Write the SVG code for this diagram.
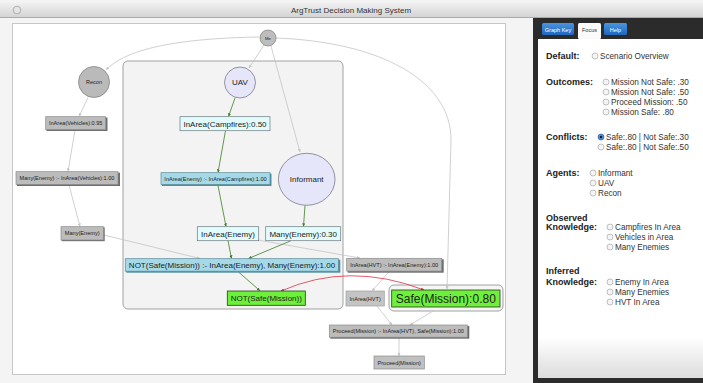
<svg xmlns="http://www.w3.org/2000/svg" width="703" height="383" viewBox="0 0 703 383">
<defs>
<linearGradient id="tb" x1="0" y1="0" x2="0" y2="1"><stop offset="0" stop-color="#f2f2f2"/><stop offset="1" stop-color="#d2d2d2"/></linearGradient>
<linearGradient id="tabb" x1="0" y1="0" x2="0" y2="1"><stop offset="0" stop-color="#4a95e0"/><stop offset="1" stop-color="#1f66c0"/></linearGradient>
<linearGradient id="pb" x1="0" y1="0" x2="0" y2="1"><stop offset="0" stop-color="#ffffff"/><stop offset="0.88" stop-color="#ffffff"/><stop offset="1" stop-color="#dcdcdc"/></linearGradient>
<marker id="ag" viewBox="0 0 6 6" refX="6" refY="3" markerWidth="4" markerHeight="4" orient="auto"><path d="M0,0 L6,3 L0,6 z" fill="#c4c4c4"/></marker>
<marker id="agr" viewBox="0 0 6 6" refX="6" refY="3" markerWidth="4" markerHeight="4" orient="auto"><path d="M0,0 L6,3 L0,6 z" fill="#3d7f25"/></marker>
<marker id="ar" viewBox="0 0 6 6" refX="6" refY="3" markerWidth="4" markerHeight="4" orient="auto"><path d="M0,0 L6,3 L0,6 z" fill="#e03048"/></marker>
<marker id="ars" viewBox="0 0 6 6" refX="0" refY="3" markerWidth="4" markerHeight="4" orient="auto"><path d="M6,0 L0,3 L6,6 z" fill="#e03048"/></marker>
<style>
.t{font-family:"Liberation Sans",Arial,sans-serif;fill:#222;text-anchor:middle}
.s{font-size:5.6px}
.m{font-size:8px}
.g{fill:none;stroke:#c4c4c4;stroke-width:0.8}
.gr{fill:none;stroke:#3d7f25;stroke-width:0.8}
.gray{fill:#bcbcbc;stroke:#8a8a8a;stroke-width:0.7}
.sh{fill:#6e6e6e}
.shb{fill:#4f8fa0}
.cyan{fill:#e2fbfd;stroke:#6a7a80;stroke-width:0.7}
.blue{fill:#a6d9e8;stroke:#5a8a98;stroke-width:0.7}
.green{fill:#6df03a;stroke:#2a3a20;stroke-width:0.8}
.lav{fill:#e6e6fa;stroke:#6a6a7a;stroke-width:0.7}
.lbl{font-family:"Liberation Sans",Arial,sans-serif;font-weight:bold;font-size:9px;fill:#222}
.opt{font-family:"Liberation Sans",Arial,sans-serif;font-size:8.2px;fill:#333}
.rd{fill:#f4f4f4;stroke:#9a9a9a;stroke-width:0.6}
</style>
</defs>
<rect x="0" y="0" width="703" height="383" fill="#f4f4f4"/>
<rect x="0" y="2" width="703" height="16" fill="url(#tb)"/>
<line x1="0" y1="17.5" x2="703" y2="17.5" stroke="#a0a0a0" stroke-width="0.8"/>
<circle cx="17" cy="10" r="3.8" fill="#e4e4e4" stroke="#9a9a9a" stroke-width="0.7"/>
<text x="351" y="12.5" class="t" style="font-size:8px;fill:#333">ArgTrust Decision Making System</text>
<rect x="12.5" y="23.5" width="493" height="351" fill="#ffffff" stroke="#c6c6c6" stroke-width="1"/>
<rect x="123" y="61" width="220" height="248" rx="5" fill="#f3f3f3" stroke="#8c8c8c" stroke-width="0.8"/>
<rect x="389" y="285" width="114" height="26" rx="5" fill="#f6f6f6" stroke="#8c8c8c" stroke-width="0.8"/>
<g id="connectors">
<path class="g" d="M259,37 C200,38 130,44 106,70" marker-end="url(#ag)"/>
<path class="g" d="M264,45 L249,68" marker-end="url(#ag)"/>
<path class="g" d="M271,46 L300,152" marker-end="url(#ag)"/>
<path class="g" d="M276,38 C380,42 451,80 451,140 L447,289" marker-end="url(#ag)"/>
<path class="g" d="M88,97.5 L79,116.5" marker-end="url(#ag)"/>
<path class="g" d="M75,130 L68,171.5" marker-end="url(#ag)"/>
<path class="g" d="M69,185 L80,226.5" marker-end="url(#ag)"/>
<path class="g" d="M104,235 L200,258.5" marker-end="url(#ag)"/>
<path class="g" d="M258,240 L360,258" marker-end="url(#ag)"/>
<path class="g" d="M389,271.7 L372,291" marker-end="url(#ag)"/>
<path class="g" d="M377,306 L392,325" marker-end="url(#ag)"/>
<path class="g" d="M433,311 L410,325" marker-end="url(#ag)"/>
<path class="g" d="M399,338 L399,356" marker-end="url(#ag)"/>
<path class="gr" d="M235,98 L228.5,116.5" marker-end="url(#agr)"/>
<path class="gr" d="M225.5,130.7 L218,172.5" marker-end="url(#agr)"/>
<path class="gr" d="M218,185.5 L226,226.5" marker-end="url(#agr)"/>
<path class="gr" d="M305,205.5 L303.5,226.5" marker-end="url(#agr)"/>
<path class="gr" d="M228,240.7 L231.5,258.5" marker-end="url(#agr)"/>
<path class="gr" d="M291,240.7 L248.5,258.5" marker-end="url(#agr)"/>
<path class="gr" d="M238.5,272 L260,290.8" marker-end="url(#agr)"/>
<path d="M281,291 Q349,261 424,290" fill="none" stroke="#e03048" stroke-width="0.8" marker-start="url(#ars)" marker-end="url(#ar)"/>
</g>
<g id="me"><circle cx="268" cy="38" r="8" fill="#bdbdbd" stroke="#808080" stroke-width="0.7"/><text x="268" y="39.5" class="t" style="font-size:4.3px">Me</text></g>
<g id="recon"><circle cx="94" cy="82" r="15.5" fill="#bababa" stroke="#7a7a7a" stroke-width="0.7"/><text x="94" y="84" class="t" style="font-size:5.5px">Recon</text></g>
<g id="uav"><circle cx="240" cy="82.5" r="15.5" class="lav"/><text x="240" y="85.3" class="t m">UAV</text></g>
<g id="informant"><ellipse cx="306.7" cy="179.3" rx="28.3" ry="26" class="lav"/><text x="306.7" y="182" class="t m">Informant</text></g>
<g id="inarea-vehicles"><rect x="46.5" y="117.5" width="61" height="13.5" class="sh"/><rect x="45.7" y="116.7" width="60" height="13" class="gray"/><text x="75.7" y="125.3" class="t s">InArea(Vehicles):0.95</text></g>
<g id="many-enemy-rule"><rect x="17" y="172.7" width="103" height="13.3" class="sh"/><rect x="16" y="171.7" width="102" height="12.8" class="gray"/><text x="67" y="180.2" class="t s">Many(Enemy) :- InArea(Vehicles):1.00</text></g>
<g id="many-enemy"><rect x="61.7" y="227.4" width="43" height="13.8" class="sh"/><rect x="61" y="226.7" width="42.5" height="13.3" class="gray"/><text x="82.2" y="235.3" class="t s">Many(Enemy)</text></g>
<g id="inarea-campfires"><rect x="180" y="116.7" width="90" height="14" class="cyan"/><text x="225" y="126.5" class="t m">InArea(Campfires):0.50</text></g>
<g id="inarea-enemy-rule"><rect x="162" y="173.7" width="109.5" height="12.3" class="shb"/><rect x="161" y="172.7" width="109" height="11.8" class="blue"/><text x="215.5" y="180.6" class="t s">InArea(Enemy) :- InArea(Campfires):1.00</text></g>
<g id="inarea-enemy"><rect x="197.3" y="226.7" width="61.4" height="14" class="cyan"/><text x="228" y="236.5" class="t m">InArea(Enemy)</text></g>
<g id="many-enemy-030"><rect x="265.7" y="226.7" width="75" height="14" class="cyan"/><text x="303.2" y="236.5" class="t m">Many(Enemy):0.30</text></g>
<g id="not-safe-rule"><rect x="126.3" y="259.7" width="214" height="13" class="shb"/><rect x="125.3" y="258.7" width="213" height="12.5" class="blue"/><text x="232" y="268" class="t m">NOT(Safe(Mission)) :- InArea(Enemy), Many(Enemy):1.00</text></g>
<g id="not-safe"><rect x="227.3" y="291" width="78" height="14.3" class="green"/><text x="266.3" y="301" class="t m">NOT(Safe(Mission))</text></g>
<g id="inarea-hvt-rule"><rect x="347.7" y="259.3" width="96" height="13.4" class="sh"/><rect x="346.7" y="258.3" width="95" height="12.8" class="gray"/><text x="394.2" y="266.7" class="t s">InArea(HVT) :- InArea(Enemy):1.00</text></g>
<g id="inarea-hvt"><rect x="346" y="291" width="38.3" height="15" fill="#c4c4c4" stroke="#a0a0a0" stroke-width="0.7"/><text x="365.2" y="300.5" class="t s">InArea(HVT)</text></g>
<g id="safe-mission"><rect x="391.7" y="290" width="108.3" height="17" class="green"/><text x="445.8" y="302.8" class="t" style="font-size:12px">Safe(Mission):0.80</text></g>
<g id="proceed-rule"><rect x="330.3" y="326" width="139" height="12.7" class="sh"/><rect x="329.3" y="325" width="138" height="12.2" class="gray"/><text x="398.3" y="333" class="t s">Proceed(Mission) :- InArea(HVT), Safe(Mission):1.00</text></g>
<g id="proceed"><rect x="374" y="356" width="50.3" height="13" fill="#c0c0c0" stroke="#8a8a8a" stroke-width="0.7"/><text x="399.2" y="364.5" class="t s">Proceed(Mission)</text></g>
<g id="side-panel">
<rect x="533" y="18" width="170" height="365" fill="#2b2b2b"/>
<rect x="538" y="39" width="165" height="339" fill="url(#pb)"/>
<rect x="542" y="23" width="32" height="12" rx="1.5" fill="url(#tabb)"/>
<text x="558" y="31.5" class="t" style="font-size:5.5px;fill:#fff">Graph Key</text>
<rect x="578" y="23" width="23" height="16" rx="1.5" fill="#fafafa"/>
<text x="589.5" y="31.5" class="t" style="font-size:5.5px;fill:#333">Focus</text>
<rect x="604" y="23" width="23" height="12" rx="1.5" fill="url(#tabb)"/>
<text x="615.5" y="31.5" class="t" style="font-size:5.5px;fill:#fff">Help</text>
<text x="546" y="59" class="lbl">Default:</text>
<circle cx="595" cy="56" r="3" class="rd"/><text x="600" y="59" class="opt">Scenario Overview</text>
<text x="546" y="85" class="lbl">Outcomes:</text>
<circle cx="606" cy="82" r="3" class="rd"/><text x="611" y="85" class="opt">Mission Not Safe: .30</text>
<circle cx="606" cy="92" r="3" class="rd"/><text x="611" y="95" class="opt">Mission Not Safe: .50</text>
<circle cx="606" cy="102" r="3" class="rd"/><text x="611" y="105" class="opt">Proceed Mission: .50</text>
<circle cx="606" cy="112" r="3" class="rd"/><text x="611" y="115" class="opt">Mission Safe: .80</text>
<text x="546" y="140" class="lbl">Conflicts:</text>
<circle cx="601" cy="137" r="3" fill="#4a8ee0" stroke="#2a5a9a" stroke-width="0.6"/><circle cx="601" cy="137" r="1.2" fill="#1a1a1a"/><text x="606" y="140" class="opt">Safe:.80 | Not Safe:.30</text>
<circle cx="601" cy="147" r="3" class="rd"/><text x="606" y="150" class="opt">Safe:.80 | Not Safe:.50</text>
<text x="546" y="176" class="lbl">Agents:</text>
<circle cx="593" cy="173" r="3" class="rd"/><text x="598" y="176" class="opt">Informant</text>
<circle cx="593" cy="183" r="3" class="rd"/><text x="598" y="186" class="opt">UAV</text>
<circle cx="593" cy="193" r="3" class="rd"/><text x="598" y="196" class="opt">Recon</text>
<text x="546" y="221" class="lbl">Observed</text>
<text x="546" y="230" class="lbl">Knowledge:</text>
<circle cx="610" cy="227" r="3" class="rd"/><text x="615" y="230" class="opt">Campfires In Area</text>
<circle cx="610" cy="237" r="3" class="rd"/><text x="615" y="240" class="opt">Vehicles in Area</text>
<circle cx="610" cy="247" r="3" class="rd"/><text x="615" y="250" class="opt">Many Enemies</text>
<text x="546" y="274" class="lbl">Inferred</text>
<text x="546" y="285" class="lbl">Knowledge:</text>
<circle cx="610" cy="282" r="3" class="rd"/><text x="615" y="285" class="opt">Enemy In Area</text>
<circle cx="610" cy="292" r="3" class="rd"/><text x="615" y="295" class="opt">Many Enemies</text>
<circle cx="610" cy="302" r="3" class="rd"/><text x="615" y="305" class="opt">HVT In Area</text>
</g>
</svg>
